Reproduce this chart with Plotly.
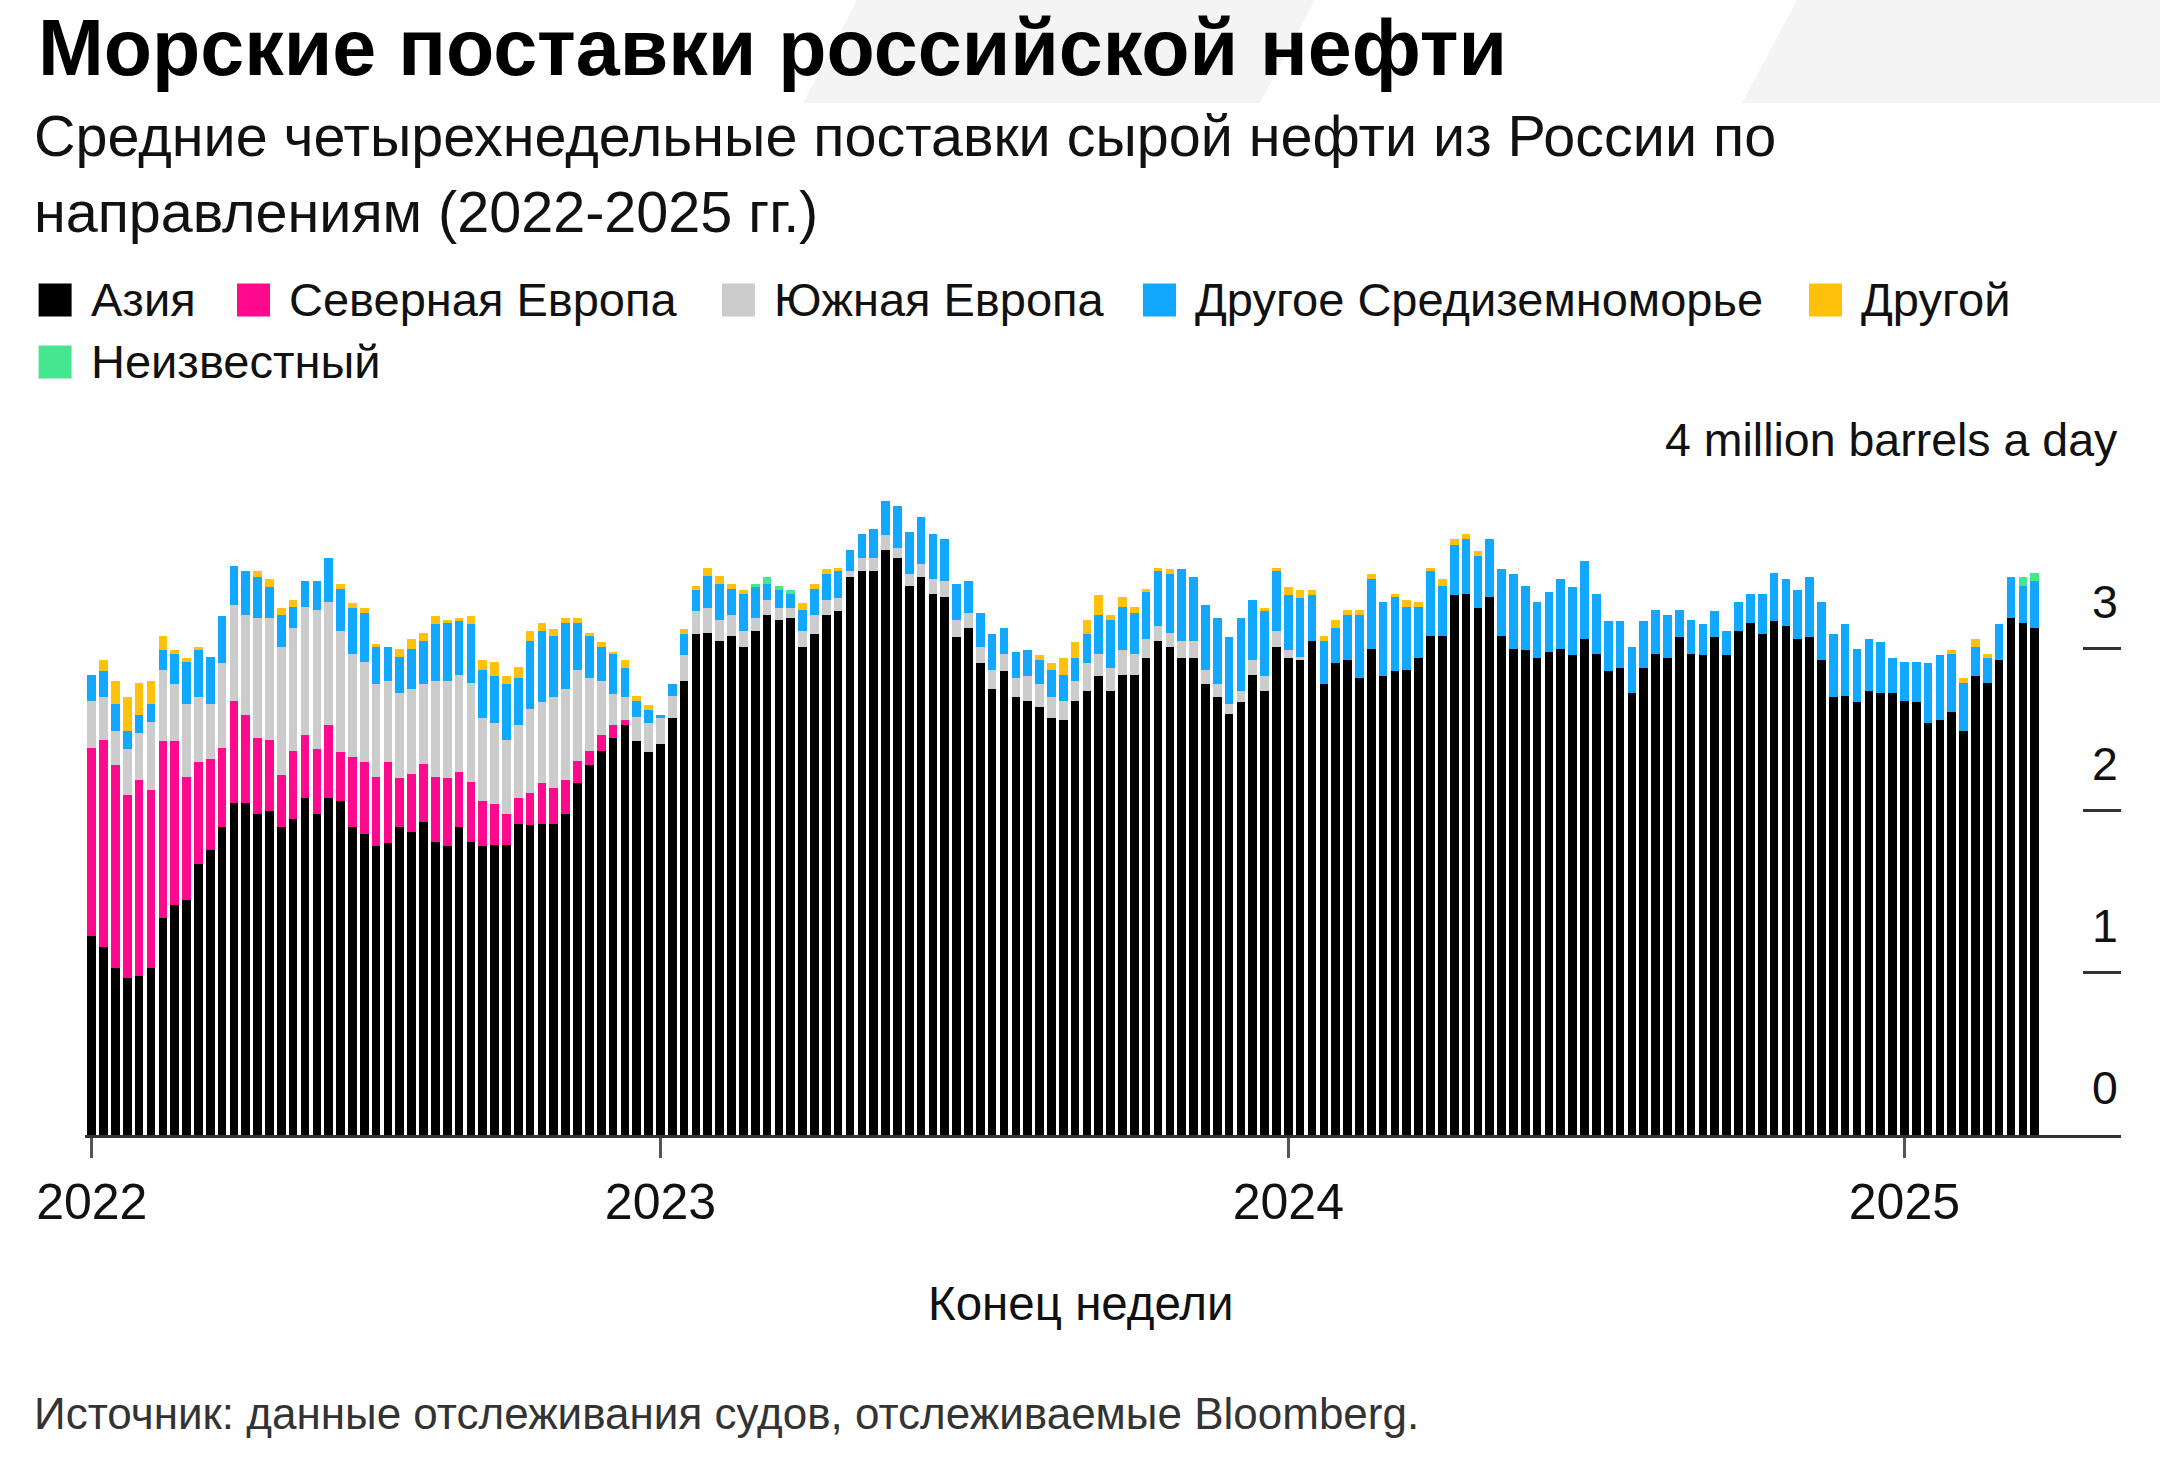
import plotly.graph_objects as go
import pandas as pd

# ---------------- data (million barrels a day, 4-week averages) ----------------
dates = pd.date_range("2022-01-30", periods=165, freq="7D").strftime("%Y-%m-%d").tolist()

series_names = ["Азия", "Северная Европа", "Южная Европа", "Другое Средиземноморье", "Другой", "Неизвестный"]

asia = [1.23, 1.16, 1.03, 0.97, 0.98, 1.03, 1.34, 1.42, 1.45, 1.67,
        1.76, 1.90, 2.05, 2.05, 1.98, 2.00, 1.90, 1.95, 2.08, 1.98,
        2.08, 2.06, 1.90, 1.86, 1.78, 1.80, 1.90, 1.87, 1.93, 1.81,
        1.78, 1.90, 1.81, 1.78, 1.79, 1.79, 1.92, 1.91, 1.92, 1.92,
        1.98, 2.17, 2.28, 2.37, 2.45, 2.53, 2.43, 2.36, 2.41, 2.57,
        2.80, 3.09, 3.10, 3.05, 3.08, 3.01, 3.11, 3.21, 3.18, 3.19,
        3.01, 3.09, 3.21, 3.23, 3.44, 3.48, 3.48, 3.61, 3.56, 3.39,
        3.44, 3.34, 3.32, 3.07, 3.13, 2.91, 2.75, 2.86, 2.70, 2.68,
        2.64, 2.57, 2.56, 2.68, 2.74, 2.83, 2.74, 2.84, 2.84, 2.94,
        3.05, 3.01, 2.94, 2.94, 2.78, 2.70, 2.60, 2.67, 2.84, 2.74,
        3.01, 2.94, 2.93, 3.05, 2.78, 2.91, 2.93, 2.82, 3.00, 2.83,
        2.86, 2.87, 2.94, 3.08, 3.08, 3.33, 3.34, 3.25, 3.32, 3.08,
        3.00, 2.99, 2.94, 2.98, 3.00, 2.96, 3.06, 2.97, 2.86, 2.88,
        2.73, 2.88, 2.97, 2.94, 3.07, 2.97, 2.96, 3.07, 2.96, 3.11,
        3.16, 3.09, 3.17, 3.14, 3.06, 3.07, 2.93, 2.70, 2.71, 2.67,
        2.74, 2.73, 2.73, 2.68, 2.67, 2.54, 2.56, 2.61, 2.49, 2.83,
        2.79, 2.93, 3.19, 3.16, 3.13]

north_europe = [1.16, 1.28, 1.25, 1.13, 1.21, 1.10, 1.09, 1.01, 0.76, 0.63,
                0.56, 0.49, 0.63, 0.54, 0.47, 0.44, 0.32, 0.42, 0.39, 0.40,
                0.45, 0.30, 0.43, 0.44, 0.43, 0.50, 0.30, 0.36, 0.36, 0.40,
                0.42, 0.34, 0.37, 0.28, 0.25, 0.19, 0.16, 0.20, 0.25, 0.22,
                0.21, 0.14, 0.09, 0.10, 0.08, 0.03, 0, 0, 0, 0,
                0, 0, 0, 0, 0, 0, 0, 0, 0, 0,
                0, 0, 0, 0, 0, 0, 0, 0, 0, 0,
                0, 0, 0, 0, 0, 0, 0, 0, 0, 0,
                0, 0, 0, 0, 0, 0, 0, 0, 0, 0,
                0, 0, 0, 0, 0, 0, 0, 0, 0, 0,
                0, 0, 0, 0, 0, 0, 0, 0, 0, 0,
                0, 0, 0, 0, 0, 0, 0, 0, 0, 0,
                0, 0, 0, 0, 0, 0, 0, 0, 0, 0,
                0, 0, 0, 0, 0, 0, 0, 0, 0, 0,
                0, 0, 0, 0, 0, 0, 0, 0, 0, 0,
                0, 0, 0, 0, 0, 0, 0, 0, 0, 0,
                0, 0, 0, 0, 0]

south_europe = [0.29, 0.26, 0.21, 0.28, 0.29, 0.42, 0.44, 0.35, 0.45, 0.40,
                0.34, 0.52, 0.59, 0.62, 0.74, 0.75, 0.79, 0.76, 0.79, 0.86,
                0.76, 0.75, 0.64, 0.62, 0.57, 0.50, 0.53, 0.52, 0.49, 0.59,
                0.60, 0.60, 0.61, 0.51, 0.50, 0.46, 0.45, 0.52, 0.50, 0.56,
                0.56, 0.56, 0.45, 0.33, 0.19, 0.14, 0.15, 0.18, 0.16, 0.14,
                0.16, 0.14, 0.15, 0.13, 0.13, 0.10, 0.08, 0.09, 0.07, 0.06,
                0.10, 0.12, 0.09, 0.08, 0.04, 0.08, 0.08, 0.09, 0.06, 0.07,
                0.08, 0.09, 0.10, 0.11, 0.09, 0.10, 0.12, 0.11, 0.12, 0.15,
                0.14, 0.13, 0.12, 0.12, 0.17, 0.14, 0.14, 0.15, 0.13, 0.12,
                0.09, 0.09, 0.11, 0.11, 0.09, 0.08, 0.06, 0.07, 0.09, 0.09,
                0.10, 0.05, 0.02, 0, 0, 0, 0, 0, 0, 0,
                0, 0, 0, 0, 0, 0, 0, 0, 0, 0,
                0, 0, 0, 0, 0, 0, 0, 0, 0, 0,
                0, 0, 0, 0, 0, 0, 0, 0, 0, 0,
                0, 0, 0, 0, 0, 0, 0, 0, 0, 0,
                0, 0, 0, 0, 0, 0, 0, 0, 0, 0,
                0, 0, 0, 0, 0]

other_med = [0.16, 0.16, 0.17, 0.11, 0.11, 0.11, 0.12, 0.19, 0.26, 0.29,
             0.29, 0.29, 0.24, 0.27, 0.25, 0.19, 0.20, 0.13, 0.16, 0.18,
             0.27, 0.26, 0.28, 0.30, 0.23, 0.21, 0.22, 0.25, 0.27, 0.35,
             0.36, 0.33, 0.36, 0.30, 0.29, 0.34, 0.29, 0.42, 0.44, 0.38,
             0.41, 0.29, 0.26, 0.21, 0.25, 0.18, 0.10, 0.08, 0.02, 0.07,
             0.13, 0.13, 0.20, 0.22, 0.16, 0.23, 0.19, 0.10, 0.11, 0.09,
             0.13, 0.16, 0.16, 0.17, 0.13, 0.15, 0.18, 0.21, 0.26, 0.26,
             0.29, 0.28, 0.26, 0.22, 0.20, 0.21, 0.22, 0.16, 0.16, 0.16,
             0.15, 0.17, 0.16, 0.14, 0.18, 0.24, 0.30, 0.27, 0.25, 0.29,
             0.34, 0.36, 0.44, 0.39, 0.40, 0.41, 0.41, 0.45, 0.37, 0.40,
             0.37, 0.34, 0.36, 0.28, 0.27, 0.22, 0.28, 0.39, 0.43, 0.46,
             0.46, 0.39, 0.32, 0.40, 0.31, 0.31, 0.34, 0.32, 0.36, 0.41,
             0.46, 0.40, 0.35, 0.37, 0.43, 0.42, 0.48, 0.37, 0.31, 0.29,
             0.28, 0.29, 0.27, 0.27, 0.17, 0.21, 0.19, 0.16, 0.15, 0.18,
             0.18, 0.25, 0.30, 0.29, 0.30, 0.37, 0.36, 0.39, 0.44, 0.33,
             0.32, 0.31, 0.21, 0.24, 0.25, 0.37, 0.40, 0.36, 0.30, 0.18,
             0.15, 0.22, 0.25, 0.23, 0.29]

other = [0, 0.07, 0.14, 0.21, 0.20, 0.14, 0.09, 0.02, 0.02, 0.02,
         0, 0, 0, 0, 0.04, 0.05, 0.04, 0.04, 0, 0,
         0, 0.03, 0.03, 0.03, 0.02, 0, 0.05, 0.06, 0.05, 0.05,
         0.02, 0.02, 0.05, 0.06, 0.09, 0.05, 0.07, 0.06, 0.05, 0.04,
         0.03, 0.03, 0.02, 0.03, 0.01, 0.05, 0.03, 0.03, 0, 0,
         0.03, 0.03, 0.05, 0.05, 0.03, 0.02, 0, 0, 0, 0,
         0.04, 0.03, 0.03, 0.02, 0, 0, 0, 0, 0, 0,
         0, 0, 0, 0, 0, 0, 0, 0, 0, 0,
         0.03, 0.04, 0.10, 0.10, 0.09, 0.12, 0.03, 0.06, 0.04, 0.02,
         0.02, 0.03, 0, 0, 0, 0, 0, 0, 0, 0.02,
         0.02, 0.05, 0.05, 0.03, 0.03, 0.05, 0.03, 0.03, 0.03, 0,
         0.02, 0.04, 0.03, 0.02, 0.04, 0.04, 0.03, 0.03, 0, 0,
         0, 0, 0, 0, 0, 0, 0, 0, 0, 0,
         0, 0, 0, 0, 0, 0, 0, 0, 0, 0,
         0, 0, 0, 0, 0, 0, 0, 0, 0, 0,
         0, 0, 0, 0, 0, 0, 0, 0.02, 0.03, 0.05,
         0.03, 0, 0, 0, 0]

unknown = [0, 0, 0, 0, 0, 0, 0, 0, 0, 0,
           0, 0, 0, 0, 0, 0, 0, 0, 0, 0,
           0, 0, 0, 0, 0, 0, 0, 0, 0, 0,
           0, 0, 0, 0, 0, 0, 0, 0, 0, 0,
           0, 0, 0, 0, 0, 0, 0, 0, 0, 0,
           0, 0, 0, 0, 0, 0, 0.02, 0.04, 0.03, 0.02,
           0, 0, 0, 0, 0, 0, 0, 0, 0, 0,
           0, 0, 0, 0, 0, 0, 0, 0, 0, 0,
           0, 0, 0, 0, 0, 0, 0, 0, 0, 0,
           0, 0, 0, 0, 0, 0, 0, 0, 0, 0,
           0, 0, 0, 0, 0, 0, 0, 0, 0, 0,
           0, 0, 0, 0, 0, 0, 0, 0, 0, 0,
           0, 0, 0, 0, 0, 0, 0, 0, 0, 0,
           0, 0, 0, 0, 0, 0, 0, 0, 0, 0,
           0, 0, 0, 0, 0, 0, 0, 0, 0, 0,
           0, 0, 0, 0, 0, 0, 0, 0, 0, 0,
           0, 0, 0, 0.05, 0.05]

y_tick_vals = [0, 1, 2, 3, 4]
y_tick_text = ["0", "1", "2", "3", "4 million barrels a day"]
# year ticks sit on the first weekly bar of each year
x_tick_vals = ["2022-01-30", "2023-01-01", "2024-01-07", "2025-01-05"]
x_tick_text = ["2022", "2023", "2024", "2025"]

# ---------------- styling ----------------
colors = ["#000000", "#ff0a8e", "#cccccc", "#12a8ff", "#ffc10a", "#44e690"]
FONT = "Liberation Sans, Arial, Helvetica, sans-serif"
W, H = 2160, 1461
L, R, T, B = 85, 2121, 486, 1135


def px(x):
    return (x - L) / (R - L)


def py(y):
    return (B - y) / (B - T)


fig = go.Figure()
for name, vals, col in zip(series_names,
                           [asia, north_europe, south_europe, other_med, other, unknown],
                           colors):
    fig.add_trace(go.Bar(x=dates, y=vals, name=name, marker=dict(color=col, line=dict(width=0)),
                         showlegend=False))

annotations = []
shapes = []

# background decorative stripes
for pts in ([(857, 0), (1315, 0), (1260, 103), (803, 103)],
            [(1797, 0), (2160, 0), (2160, 103), (1742, 103)]):
    path = "M " + " L ".join(f"{px(x):.5f},{py(y):.5f}" for x, y in pts) + " Z"
    shapes.append(dict(type="path", xref="paper", yref="paper", path=path,
                       fillcolor="#f4f4f4", line=dict(width=0), layer="below"))

# titles
annotations.append(dict(text="<b>Морские поставки российской нефти</b>", x=px(36), y=py(47),
                        xref="paper", yref="paper", xanchor="left", yanchor="middle", showarrow=False,
                        font=dict(family=FONT, size=79, color="#000000")))
annotations.append(dict(text="Средние четырехнедельные поставки сырой нефти из России по",
                        x=px(32), y=py(136), xref="paper", yref="paper", xanchor="left",
                        yanchor="middle", showarrow=False, font=dict(family=FONT, size=57.5, color="#111111")))
annotations.append(dict(text="направлениям (2022-2025 гг.)",
                        x=px(32), y=py(212), xref="paper", yref="paper", xanchor="left",
                        yanchor="middle", showarrow=False, font=dict(family=FONT, size=57.5, color="#111111")))

# legend (manual, to match layout)
leg_swatch_x = [38.6, 237, 722, 1143, 1809, 38.6]
leg_row_y = [300, 300, 300, 300, 300, 362]
for name, col, sx, sy in zip(series_names, colors, leg_swatch_x, leg_row_y):
    shapes.append(dict(type="rect", xref="paper", yref="paper",
                       x0=px(sx), x1=px(sx + 33), y0=py(sy + 16.5), y1=py(sy - 16.5),
                       fillcolor=col, line=dict(width=0)))
    annotations.append(dict(text=name, x=px(sx + 50), y=py(sy), xref="paper", yref="paper",
                            xanchor="left", yanchor="middle", showarrow=False,
                            font=dict(family=FONT, size=47, color="#111111")))

# y tick labels above the tick marks on the right
for v, t in zip(y_tick_vals, y_tick_text):
    annotations.append(dict(text=t, x=1, y=v, xref="paper", yref="y", xanchor="right",
                            yanchor="middle", yshift=47, xshift=-1, showarrow=False,
                            font=dict(family=FONT, size=46.5, color="#111111")))

# x-axis title and source
annotations.append(dict(text="Конец недели", x=px(1081), y=py(1303), xref="paper", yref="paper",
                        xanchor="center", yanchor="middle", showarrow=False,
                        font=dict(family=FONT, size=47.5, color="#111111")))
annotations.append(dict(text="Источник: данные отслеживания судов, отслеживаемые Bloomberg.",
                        x=px(32), y=py(1413), xref="paper", yref="paper", xanchor="left",
                        yanchor="middle", showarrow=False, font=dict(family=FONT, size=44, color="#333333")))

fig.update_layout(
    width=W, height=H, autosize=False,
    margin=dict(l=L, r=W - R, t=T, b=H - B, pad=0),
    paper_bgcolor="white", plot_bgcolor="white",
    barmode="stack", bargap=0.27,
    showlegend=False,
    font=dict(family=FONT, color="#111111"),
    annotations=annotations, shapes=shapes,
    xaxis=dict(type="date", range=["2022-01-26", "2025-05-13"],
               tickmode="array", tickvals=x_tick_vals, ticktext=x_tick_text,
               ticks="outside", ticklen=20, tickwidth=3, tickcolor="#555555",
               showline=True, linecolor="#333333", linewidth=3,
               showgrid=False, zeroline=False, ticklabelstandoff=1,
               tickfont=dict(family=FONT, size=50, color="#111111")),
    yaxis=dict(range=[0, 4.004], side="right", tickmode="array", tickvals=y_tick_vals,
               ticks="inside", ticklen=38, tickwidth=3, tickcolor="#333333",
               showticklabels=False, showgrid=False, zeroline=False, showline=False),
)

fig.write_html("out.html")
